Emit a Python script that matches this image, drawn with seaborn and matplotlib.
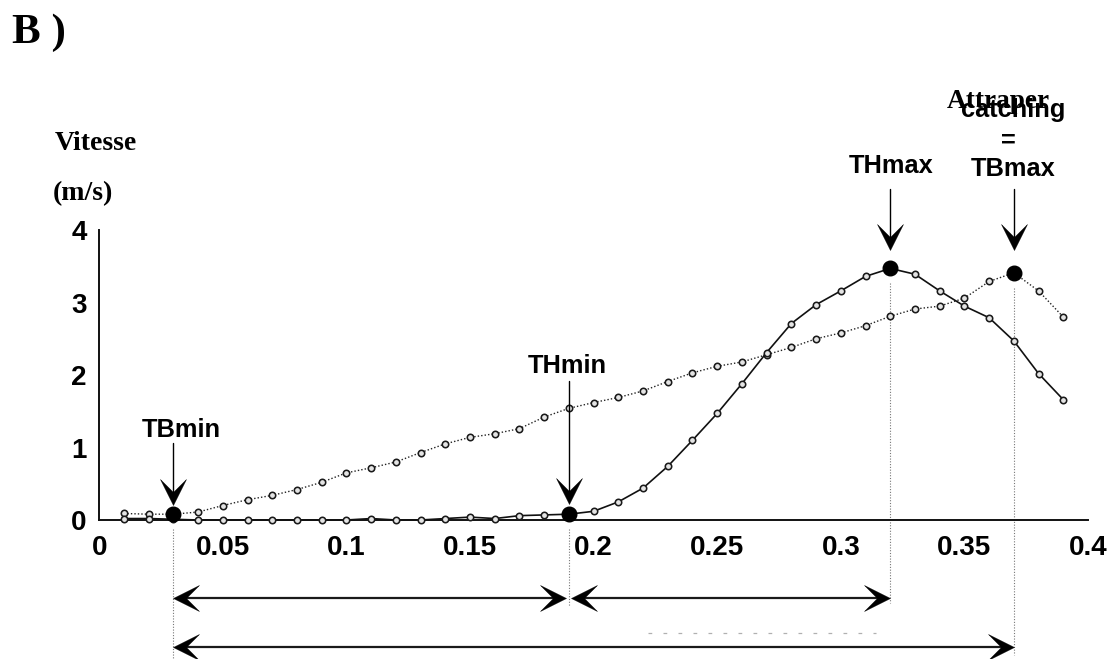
import numpy as np
import pandas as pd
import matplotlib
matplotlib.use("Agg")
import matplotlib.pyplot as plt
import seaborn as sns
from matplotlib.path import Path
from matplotlib.markers import MarkerStyle

# ---------------- data ----------------
time_s = [0.01, 0.02, 0.03, 0.04, 0.05, 0.06, 0.07, 0.08, 0.09, 0.10,
          0.11, 0.12, 0.13, 0.14, 0.15, 0.16, 0.17, 0.18, 0.19, 0.20,
          0.21, 0.22, 0.23, 0.24, 0.25, 0.26, 0.27, 0.28, 0.29, 0.30,
          0.31, 0.32, 0.33, 0.34, 0.35, 0.36, 0.37, 0.38, 0.39]
# solid curve (TH)
speed_H = [0.02, 0.02, 0.01, 0.00, 0.00, 0.00, 0.00, 0.00, 0.00, 0.00,
           0.02, 0.00, 0.00, 0.02, 0.04, 0.02, 0.06, 0.07, 0.08, 0.12,
           0.25, 0.44, 0.74, 1.10, 1.47, 1.88, 2.31, 2.71, 2.97, 3.16,
           3.36, 3.47, 3.39, 3.16, 2.95, 2.79, 2.47, 2.02, 1.66]
# dotted curve (TB)
speed_B = [0.09, 0.08, 0.08, 0.11, 0.20, 0.28, 0.34, 0.42, 0.52, 0.65,
           0.72, 0.80, 0.93, 1.05, 1.14, 1.19, 1.26, 1.42, 1.54, 1.62,
           1.69, 1.78, 1.91, 2.03, 2.12, 2.18, 2.28, 2.38, 2.50, 2.58,
           2.68, 2.81, 2.91, 2.95, 3.06, 3.29, 3.41, 3.16, 2.80]

x_ticks = [0, 0.05, 0.1, 0.15, 0.2, 0.25, 0.3, 0.35, 0.4]
x_tick_labels = ["0", "0.05", "0.1", "0.15", "0.2", "0.25", "0.3", "0.35", "0.4"]
y_ticks = [0, 1, 2, 3, 4]
y_tick_labels = ["0", "1", "2", "3", "4"]

event_names = ["TBmin", "THmin", "THmax", "TBmax"]
event_times = [0.03, 0.19, 0.32, 0.37]
event_series = ["B", "H", "H", "B"]

# ---------------- figure ----------------
sns.set_theme(style="white")
plt.rcParams["font.family"] = ["Liberation Sans", "DejaVu Sans"]
plt.rcParams["text.color"] = "black"
plt.rcParams["xtick.color"] = "black"
plt.rcParams["ytick.color"] = "black"
plt.rcParams["axes.labelcolor"] = "black"

W, H = 1116, 659
fig = plt.figure(figsize=(W / 100, H / 100), dpi=100)
ax_left_px, ax_right_px, ax_bot_px, ax_top_px = 99.2, 1088.0, 520.0, 230.0
ax = fig.add_axes([ax_left_px / W, 1 - ax_bot_px / H,
                   (ax_right_px - ax_left_px) / W, (ax_bot_px - ax_top_px) / H])
ax.set_xlim(0, 0.4)
ax.set_ylim(0, 4)
px_per_y = (ax_bot_px - ax_top_px) / 4.0
px_per_x = (ax_right_px - ax_left_px) / 0.4


def yd(py):
    """figure pixel row (from top) -> data y"""
    return (ax_bot_px - py) / px_per_y


def xd(px):
    return (px - ax_left_px) / px_per_x


df = pd.DataFrame({"t": time_s, "H": speed_H, "B": speed_B})

mk = dict(marker="o", markersize=4.6, markerfacecolor="#e4e4e4",
          markeredgecolor="#1a1a1a", markeredgewidth=1.15)
sns.lineplot(data=df, x="t", y="B", ax=ax, color="#222222", linestyle=(0, (1, 1.5)),
             linewidth=1.0, clip_on=False, zorder=3, **mk)
sns.lineplot(data=df, x="t", y="H", ax=ax, color="#111111", linestyle="-",
             linewidth=1.2, clip_on=False, zorder=3, **mk)

# event big dots
series_map = {"H": speed_H, "B": speed_B}
ev_vals = [series_map[s][time_s.index(t)] for t, s in zip(event_times, event_series)]
ax.plot(event_times, ev_vals, linestyle="none", marker="o", markersize=10.5,
        color="black", clip_on=False, zorder=5)

# axes styling
for side in ["top", "right"]:
    ax.spines[side].set_visible(False)
for side in ["left", "bottom"]:
    ax.spines[side].set_linewidth(1.4)
    ax.spines[side].set_color("#111111")
ax.set_xticks(x_ticks)
ax.set_xticklabels(x_tick_labels)
ax.set_yticks(y_ticks)
ax.set_yticklabels(y_tick_labels)
ax.tick_params(axis="x", direction="in", length=7.2, width=1.2, pad=10.5,
               labelsize=20, color="#111111", labelcolor="black")
ax.tick_params(axis="y", direction="in", length=6.7, width=1.2, pad=9,
               labelsize=20, color="#111111", labelcolor="black")
for lab in ax.get_xticklabels() + ax.get_yticklabels():
    lab.set_fontweight("bold")
ax.set_xlabel("")
ax.set_ylabel("")


# ---------------- arrow heads ----------------
def head_marker(direction):
    base = np.array([(0, 0), (-0.5, 1.0), (0, 0.5), (0.5, 1.0), (0, 0)])
    ang = {"down": 0, "up": 180, "right": 90, "left": -90}[direction]
    a = np.deg2rad(ang)
    R = np.array([[np.cos(a), -np.sin(a)], [np.sin(a), np.cos(a)]])
    v = base @ R.T
    codes = [Path.MOVETO, Path.LINETO, Path.LINETO, Path.LINETO, Path.CLOSEPOLY]
    return MarkerStyle(Path(v, codes))


head_ms = 37.4  # ~26 px head


def draw_head(x, y, direction):
    ax.plot([x], [y], linestyle="none", marker=head_marker(direction),
            markersize=head_ms, color="black", markeredgewidth=0.3,
            clip_on=False, zorder=6)


# vertical arrows (top px, tip px)
v_arrow_rows = [(443, 505), (381, 504), (189, 250), (189, 250)]
for t, (top, tip) in zip(event_times, v_arrow_rows):
    ax.plot([t, t], [yd(top), yd(tip) + 0.15], color="black", linewidth=1.0,
            clip_on=False, zorder=6)
    draw_head(t, yd(tip), "down")

# event labels
lab_font = dict(fontsize=18.3, fontweight="bold", color="black",
                family=["Liberation Sans", "DejaVu Sans"])
label_pos = {"TBmin": (181.7, 437), "THmin": (567, 373), "THmax": (891, 173),
             "TBmax": (1013, 176)}
for name in event_names:
    px, py = label_pos[name]
    ax.text(xd(px), yd(py), name, ha="center", va="baseline", clip_on=False, **lab_font)
ax.text(xd(1008), yd(148), "=", ha="center", va="baseline", clip_on=False, **lab_font)
ax.text(xd(1013), yd(117), "catching", ha="center", va="baseline", clip_on=False, **lab_font)
ax.text(xd(998.5), yd(108), "Attraper", ha="center", va="baseline", clip_on=False,
        fontsize=19.6, fontweight="bold", color="black",
        family=["Liberation Serif", "DejaVu Serif"])

# vertical dotted drop lines (start ~15 px below the dot, bottom px)
drop_bottoms = [659, 606, 603, 655]
for t, v, b in zip(event_times, ev_vals, drop_bottoms):
    ax.plot([t, t], [v - 15 / px_per_y, yd(b)], color="#777777", linewidth=0.8,
            linestyle=(0, (1, 1.5)), clip_on=False, zorder=2)

# horizontal double arrows
gap = 0.001
h_arrows = [(event_times[0], event_times[1] - gap, 597.7),
            (event_times[1] + gap, event_times[2], 597.7),
            (event_times[0], event_times[3], 646.7)]
for x0, x1, row in h_arrows:
    y = yd(row)
    ax.plot([x0 + 0.004, x1 - 0.004], [y, y], color="#1a1a1a", linewidth=1.6,
            clip_on=False, zorder=6, solid_capstyle="butt")
    draw_head(x0, y, "left")
    draw_head(x1, y, "right")

# faint remnant dashes
ax.plot([xd(648), xd(876)], [yd(632.7), yd(632.7)], color="#b0b0b0", linewidth=0.9,
        linestyle=(0, (3, 9)), clip_on=False, zorder=1)

# titles / axis caption
serif = ["Liberation Serif", "DejaVu Serif"]
fig.text(12 / W, 1 - 43 / H, "B )", fontsize=31, fontweight="bold", family=serif,
         ha="left", va="baseline", color="black")
fig.text(55 / W, 1 - 150 / H, "Vitesse", fontsize=20, fontweight="bold", family=serif,
         ha="left", va="baseline", color="black")
fig.text(53 / W, 1 - 200 / H, "(m/s)", fontsize=20, fontweight="bold", family=serif,
         ha="left", va="baseline", color="black")

fig.savefig("out.png", dpi=100, facecolor="white")
